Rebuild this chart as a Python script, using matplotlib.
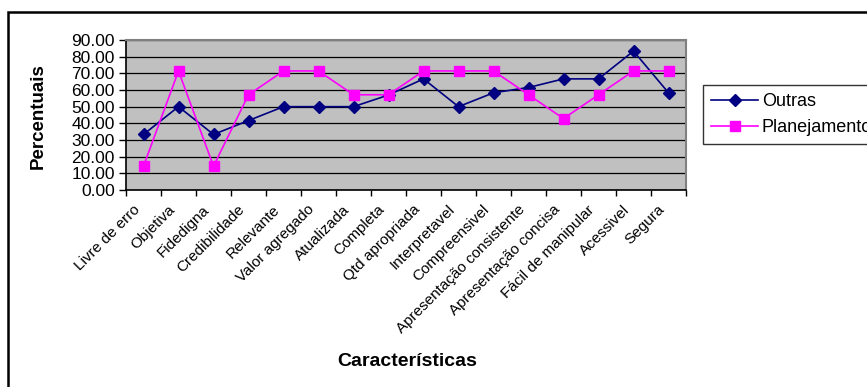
import matplotlib
matplotlib.use("Agg")
import matplotlib.pyplot as plt
from matplotlib.patches import Rectangle
from matplotlib.ticker import FixedLocator, FormatStrFormatter
from matplotlib.transforms import ScaledTranslation

plt.rcParams['font.family'] = ['Liberation Sans', 'DejaVu Sans']

categorias = ["Livre de erro", "Objetiva", "Fidedigna", "Credibilidade", "Relevante",
              "Valor agregado", "Atualizada", "Completa", "Qtd apropriada", "Interpretavel",
              "Compreensivel", "Apresentação consistente", "Apresentação concisa",
              "Fácil de manipular", "Acessivel", "Segura"]
outras = [33.33, 50.00, 33.33, 41.67, 50.00, 50.00, 50.00, 57.00,
          66.67, 50.00, 58.33, 61.50, 66.67, 66.67, 83.33, 58.33]
planejamento = [14.29, 71.43, 14.29, 57.14, 71.43, 71.43, 57.14, 57.14,
                71.43, 71.43, 71.43, 57.14, 42.86, 57.14, 71.43, 71.43]
y_ticks = [0, 10, 20, 30, 40, 50, 60, 70, 80, 90]

W, H = 867, 387
fig = plt.figure(figsize=(W / 100, H / 100), dpi=100)

# plot area in pixels: x 126..686, y 40..190
ax = fig.add_axes([126 / W, 1 - 190 / H, (686 - 126) / W, (190 - 40) / H])
ax.set_facecolor('#C0C0C0')

x = list(range(len(categorias)))
l1, = ax.plot(x, outras, color='#000080', lw=1.2, marker='D', markersize=6.5,
              label='Outras', zorder=3)
l2, = ax.plot(x, planejamento, color='#FF00FF', lw=1.2, marker='s', markersize=6.5,
              label='Planejamento', zorder=3)

ax.set_xlim(-0.5, len(categorias) - 0.5)
ax.set_ylim(0, 90)
ax.set_yticks(y_ticks)
ax.yaxis.set_major_formatter(FormatStrFormatter('%.2f'))
ax.yaxis.grid(True, color='black', lw=0.9)
ax.set_axisbelow(True)

# ticks between categories, labels on the centers
ax.xaxis.set_major_locator(FixedLocator([i - 0.5 for i in range(len(categorias) + 1)]))
ax.xaxis.set_minor_locator(FixedLocator(x))
ax.set_xticklabels([], minor=False)
ax.set_xticklabels(categorias, minor=True, rotation=45, ha='right', va='top',
                   rotation_mode='anchor', fontsize=11)
ax.tick_params(axis='x', which='minor', length=0, pad=9)
ax.tick_params(axis='x', which='major', length=4, width=1, direction='out')
ax.tick_params(axis='y', length=5, width=1, direction='out', labelsize=12.5, pad=3)

# nudge the slanted labels a bit to the left
shift = ScaledTranslation(-0.11, 0, fig.dpi_scale_trans)
for lab in ax.get_xticklabels(minor=True):
    lab.set_transform(lab.get_transform() + shift)

for s in ['left', 'bottom']:
    ax.spines[s].set_color('black')
    ax.spines[s].set_linewidth(1.2)
for s in ['top', 'right']:
    ax.spines[s].set_color('#808080')
    ax.spines[s].set_linewidth(1.5)

fig.text(38 / W, 1 - 116 / H, 'Percentuais', rotation=90, ha='center', va='center',
         fontsize=13.5, fontweight='bold')
fig.text(407 / W, 1 - 362 / H, 'Características', ha='center', va='center',
         fontsize=14, fontweight='bold')

leg = fig.legend(handles=[l1, l2], loc='upper left', bbox_to_anchor=(703 / W, 1 - 85 / H),
                 fontsize=13, frameon=True, fancybox=False, handlelength=2.6,
                 handletextpad=0.2, borderpad=0.45, labelspacing=0.5,
                 borderaxespad=0)
leg.get_frame().set_edgecolor('black')
leg.get_frame().set_linewidth(1.0)

# outer chart frame running past the image edges
fig.patches.append(Rectangle((7.5 / W, -0.1), 1.2, 1 - 11.5 / H + 0.1,
                             transform=fig.transFigure, fill=False,
                             edgecolor='black', lw=1.8))

fig.savefig('out.png', dpi=100)
